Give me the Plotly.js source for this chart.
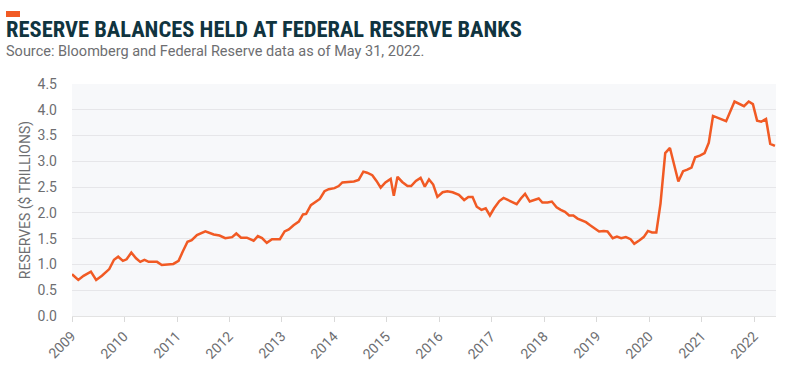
<!DOCTYPE html>
<html>
<head>
<meta charset="utf-8">
<script src="https://cdn.plot.ly/plotly-3.0.1.min.js"></script>
<style>
html,body{margin:0;padding:0;background:#fff;}
#chart{width:792px;height:384px;}
</style>
</head>
<body>
<div id="chart"></div>
<script>
// Decimal-year positions of each observation
var dates = [
2009.00,2009.12,2009.22,2009.36,2009.46,2009.57,2009.71,2009.80,2009.88,2009.97,
2010.04,2010.13,2010.22,2010.30,2010.38,2010.46,2010.62,2010.71,2010.93,
2011.03,2011.11,2011.20,2011.28,2011.38,2011.54,2011.70,2011.81,2011.92,
2012.05,2012.13,2012.22,2012.33,2012.46,2012.54,2012.62,2012.71,2012.81,2012.96,
2013.05,2013.13,2013.22,2013.32,2013.40,2013.46,2013.55,2013.64,2013.72,2013.81,2013.89,
2014.00,2014.08,2014.15,2014.27,2014.37,2014.46,2014.55,2014.62,2014.72,2014.80,2014.88,2014.97,
2015.07,2015.13,2015.20,2015.29,2015.39,2015.46,2015.55,2015.64,2015.72,2015.80,2015.88,2015.96,
2016.06,2016.15,2016.25,2016.37,2016.47,2016.55,2016.63,2016.71,2016.80,2016.88,2016.96,
2017.04,2017.14,2017.22,2017.30,2017.39,2017.47,2017.55,2017.63,2017.72,2017.80,2017.89,2017.96,
2018.06,2018.14,2018.23,2018.31,2018.39,2018.47,2018.55,2018.63,2018.71,2018.79,2018.87,2018.95,
2019.04,2019.13,2019.20,2019.30,2019.38,2019.46,2019.55,2019.64,2019.71,2019.81,2019.89,2019.97,
2020.05,2020.13,2020.21,2020.30,2020.39,2020.55,2020.64,2020.72,2020.80,2020.87,2020.96,
2021.05,2021.13,2021.21,2021.30,2021.46,2021.62,2021.80,2021.89,2021.97,
2022.05,2022.13,2022.22,2022.30,2022.39
];
// Reserve balances, $ trillions
var reserves = [
0.81,0.70,0.78,0.86,0.70,0.78,0.91,1.09,1.15,1.07,
1.10,1.23,1.12,1.05,1.09,1.05,1.05,0.99,1.01,
1.07,1.25,1.44,1.47,1.57,1.64,1.58,1.56,1.51,
1.53,1.60,1.52,1.52,1.46,1.55,1.51,1.42,1.49,1.49,
1.64,1.68,1.76,1.83,1.97,1.98,2.15,2.22,2.27,2.42,2.46,
2.48,2.52,2.59,2.60,2.61,2.64,2.80,2.78,2.73,2.62,2.49,2.59,
2.66,2.33,2.70,2.60,2.52,2.52,2.62,2.68,2.51,2.65,2.55,2.31,
2.40,2.42,2.40,2.35,2.25,2.31,2.31,2.12,2.06,2.09,1.95,
2.09,2.23,2.29,2.25,2.22,2.17,2.28,2.37,2.22,2.25,2.28,2.20,
2.20,2.22,2.11,2.06,2.02,1.95,1.95,1.89,1.85,1.82,1.76,1.70,
1.64,1.65,1.64,1.51,1.54,1.51,1.53,1.49,1.40,1.47,1.53,1.65,
1.62,1.62,2.18,3.16,3.26,2.61,2.81,2.84,2.88,3.08,3.11,
3.16,3.36,3.88,3.84,3.78,4.16,4.07,4.16,4.11,
3.79,3.77,3.82,3.34,3.30
];
var yearTicks = [2009,2010,2011,2012,2013,2014,2015,2016,2017,2018,2019,2020,2021,2022];
var yearLabels = ["2009","2010","2011","2012","2013","2014","2015","2016","2017","2018","2019","2020","2021","2022"];

var titleText = "RESERVE BALANCES HELD AT FEDERAL RESERVE BANKS";
var subtitleText = "Source: Bloomberg and Federal Reserve data as of May 31, 2022.";

var trace = {
  x: dates, y: reserves, type: "scatter", mode: "lines",
  line: {color: "#f15a24", width: 2.5},
  hoverinfo: "skip"
};

var W = 704, H = 232; // plot area size in px

var annotations = [
  {xref: "paper", yref: "paper", x: -68/W, y: 1 + 55/H, xanchor: "left", yanchor: "middle",
   text: "<b>" + titleText + "</b>", showarrow: false,
   font: {family: "'Liberation Sans Narrow', 'Roboto Condensed', Roboto, sans-serif", size: 22.5, color: "#10343f"}},
  {xref: "paper", yref: "paper", x: -68/W, y: 1 + 32/H, xanchor: "left", yanchor: "middle",
   text: subtitleText, showarrow: false,
   font: {family: "Roboto, sans-serif", size: 14.5, color: "#6d6e71"}}
];
// rotated year labels placed at each tick value
yearTicks.forEach(function (yr, i) {
  annotations.push({
    xref: "x", yref: "paper", x: yr, y: 0,
    xanchor: "center", yanchor: "middle",
    xshift: -10.5, yshift: -28.5,
    textangle: -45, showarrow: false,
    text: yearLabels[i],
    font: {family: "Roboto, sans-serif", size: 14, color: "#6d6e71"}
  });
});

var layout = {
  width: 792, height: 384,
  margin: {l: 72, r: 16, t: 84, b: 68},
  paper_bgcolor: "#ffffff",
  plot_bgcolor: "#f7f8fa",
  showlegend: false,
  font: {family: "Roboto, 'Open Sans', sans-serif", color: "#6d6e71", size: 14},
  xaxis: {
    type: "linear",
    range: [2009, 2022.41],
    tickvals: yearTicks,
    showticklabels: false,
    ticks: "outside", ticklen: 5, tickcolor: "#d9d9d9", tickwidth: 1,
    showgrid: false, zeroline: false,
    showline: true, linecolor: "#e3e3e3", linewidth: 1,
    fixedrange: true
  },
  yaxis: {
    range: [0, 4.5],
    dtick: 0.5, tick0: 0,
    tickformat: ".1f",
    showgrid: true, gridcolor: "#e6e6e9", gridwidth: 1,
    zeroline: false, showline: false,
    ticks: "", ticklabelstandoff: 14,
    tickfont: {size: 14, color: "#6d6e71"},
    title: {text: "RESERVES ($ TRILLIONS)", font: {size: 14, color: "#6d6e71"}, standoff: 3},
    fixedrange: true
  },
  shapes: [
    {type: "rect", xref: "paper", yref: "paper", x0: -66/W, x1: -52/W, y0: 1 + 67/H, y1: 1 + 73/H,
     fillcolor: "#f15a24", line: {width: 0}}
  ],
  annotations: annotations
};

Plotly.newPlot("chart", [trace], layout, {staticPlot: true, displayModeBar: false});
</script>
</body>
</html>
